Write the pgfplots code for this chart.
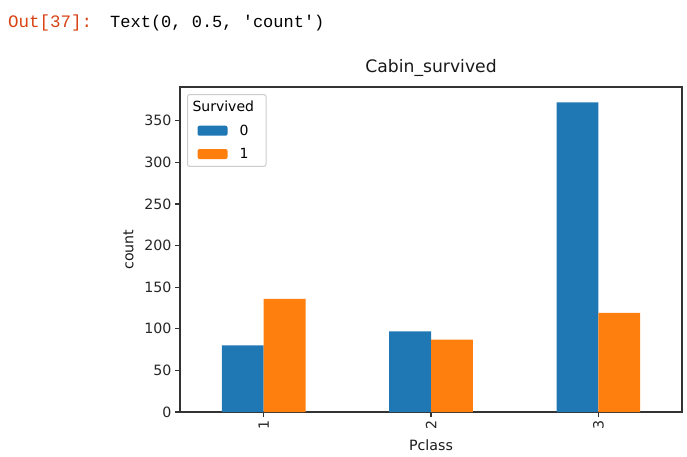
\documentclass[border=0pt]{standalone}
\usepackage{fontspec}
\setmainfont{DejaVu Sans}
\newfontfamily\outfont{Liberation Mono}
\usepackage{pgfplots}
\pgfplotsset{compat=1.18}
\definecolor{mblue}{HTML}{1F77B4}
\definecolor{morange}{HTML}{FF7F0E}
\definecolor{outred}{HTML}{D84315}
\begin{document}
\begin{tikzpicture}[x=1pt,y=1pt]
\useasboundingbox (0pt,0pt) rectangle (687pt,456pt);
\node[anchor=base west, inner sep=0pt, text=outred, font=\outfont\fontsize{17.5}{20}\selectfont] at (8pt,428pt) {Out[37]:};
\node[anchor=base west, inner sep=0pt, font=\outfont\fontsize{17}{20}\selectfont] at (110pt,428pt) {Text(0, 0.5, 'count')};
\begin{axis}[
  at={(180pt,44pt)}, anchor=south west,
  scale only axis, width=502pt, height=325pt,
  xmin=-0.5, xmax=2.5, ymin=0, ymax=390.6,
  xtick={0,1,2}, xticklabels={1,2,3},
  ytick={0,50,...,350},
  /pgf/number format/assume math mode=true,
  tick label style={font=\fontsize{14.2}{16}\selectfont, text=black!85},
  x tick label style={rotate=90, anchor=east},
  tick align=outside, major tick length=5pt,
  xtick pos=bottom, ytick pos=left,
  tick style={black!80, line width=1.1pt},
  axis line style={black!80, line width=1.1pt},
  title={Cabin\_survived},
  title style={at={(0.5,1)}, anchor=base, yshift=9pt, font=\fontsize{17.2}{19}\selectfont, text=black!90},
  xlabel={Pclass}, ylabel={count},
  label style={font=\fontsize{14.2}{16}\selectfont, text=black!90},
  xlabel style={yshift=-3pt},
  ylabel style={yshift=4pt},
  legend style={at={(0.014,0.978)}, anchor=north west, draw=black!20, line width=1pt,
    rounded corners=2pt, fill=white, font=\fontsize{14}{16}\selectfont,
    inner xsep=10pt, inner ysep=4.5pt, row sep=7.5pt},
  legend cell align=left,
]
\addlegendimage{empty legend}
\addlegendentry{\hspace{-47pt}Survived}
\addplot[ybar, bar width=0.25, bar shift=-0.125, fill=mblue, draw=none,
  legend image code/.code={\fill[mblue] (0pt,-5pt) rectangle (30pt,5pt); \path (40pt,0pt);}]
  coordinates {(0,80) (1,97) (2,372)};
\addlegendentry{0}
\addplot[ybar, bar width=0.25, bar shift=0.125, fill=morange, draw=none,
  legend image code/.code={\fill[morange] (0pt,-5pt) rectangle (30pt,5pt); \path (40pt,0pt);}]
  coordinates {(0,136) (1,87) (2,119)};
\addlegendentry{1}
\end{axis}
\end{tikzpicture}
\end{document}
